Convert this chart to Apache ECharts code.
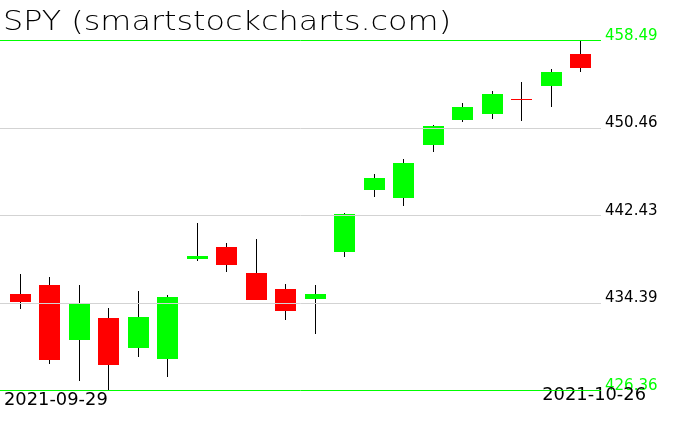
<!DOCTYPE html>
<html><head><meta charset="utf-8">
<script src="https://cdn.jsdelivr.net/npm/echarts@6/dist/echarts.min.js"></script>
<style>html,body{margin:0;padding:0;background:#fff}#c{width:676px;height:431px}</style>
</head><body><div id="c"></div>
<script>
const dates = ['2021-09-29','2021-09-30','2021-10-01','2021-10-04','2021-10-05','2021-10-06','2021-10-07','2021-10-08','2021-10-11','2021-10-12','2021-10-13','2021-10-14','2021-10-15','2021-10-18','2021-10-19','2021-10-20','2021-10-21','2021-10-22','2021-10-25','2021-10-26'];
const opens  = [435.19,436.02,430.98,433.00,430.24,429.27,438.39,439.48,437.16,435.67,434.71,439.08,444.75,443.97,448.92,451.13,451.77,453.13,454.28,457.20];
const highs  = [437.04,436.77,436.03,433.96,435.49,435.12,441.68,439.89,440.26,436.10,436.05,442.66,446.26,447.55,450.71,452.73,453.83,454.67,455.90,458.49];
const lows   = [433.85,428.78,427.23,426.36,429.39,427.54,438.20,437.19,434.62,432.78,431.54,438.58,444.09,443.27,448.27,451.01,451.31,451.05,452.39,455.56];
const closes = [434.44,429.14,434.24,428.64,433.10,434.90,438.66,437.86,434.69,433.62,435.18,442.50,445.87,447.19,450.64,452.41,453.59,453.12,455.55,455.96];
const yTicks = [426.36, 434.39, 442.43, 450.46, 458.49];
const titleText = 'SPY (smartstockcharts.com)';

const GREEN = '#00ff00', RED = '#ff0000', GRAY = '#d3d3d3';
const chart = echarts.init(document.getElementById('c'), null, {renderer: 'canvas'});
const candles = dates.map((d, i) => [i, opens[i], closes[i], lows[i], highs[i]]);

chart.setOption({
  animation: false,
  backgroundColor: '#fff',
  grid: {left: 0, right: 75, top: 40.3, bottom: 40.7},
  xAxis: {type: 'value', min: -0.6955, max: 19.695, show: false},
  yAxis: {type: 'value', min: yTicks[0], max: yTicks[yTicks.length - 1], show: false},
  series: [
    {
      type: 'line', z: 1, silent: true, showSymbol: false,
      data: candles.map(c => [c[0], c[2]]),
      lineStyle: {width: 0, opacity: 0},
      markLine: {
        silent: true, symbol: 'none', animation: false,
        label: {show: false},
        data: yTicks.map((v, i) => ({
          yAxis: v,
          lineStyle: {type: 'solid', width: 1, color: (i === 0 || i === yTicks.length - 1) ? GREEN : GRAY}
        }))
      }
    },
    {
      type: 'custom', z: 2, silent: true,
      data: candles,
      encode: {x: 0, y: [1, 2, 3, 4]},
      renderItem(params, api) {
        const x = api.value(0);
        const o = api.value(1), c = api.value(2), l = api.value(3), h = api.value(4);
        const pO = api.coord([x, o]), pC = api.coord([x, c]);
        const pL = api.coord([x, l]), pH = api.coord([x, h]);
        const w = Math.round(api.size([1, 0])[0] * 0.715);
        const cx = Math.floor(pO[0]) + 0.5;
        const top = Math.round(Math.min(pO[1], pC[1]));
        const bot = Math.round(Math.max(pO[1], pC[1]));
        const bh = Math.max(bot - top, 1);
        return {
          type: 'group',
          children: [
            {type: 'line', shape: {x1: cx, y1: Math.round(pH[1]), x2: cx, y2: Math.round(pL[1])},
             style: {stroke: '#000', lineWidth: 1}},
            {type: 'rect', shape: {x: Math.round(cx - w / 2), y: top, width: w, height: bh},
             style: {fill: c > o ? GREEN : RED}}
          ]
        };
      }
    }
  ]
});

const gfx = [];
yTicks.forEach((v, i) => {
  const y = chart.convertToPixel({yAxisIndex: 0}, v);
  gfx.push({
    type: 'text', x: 605, y: y - 4.5, silent: true,
    style: {text: v.toFixed(2), fill: (i === 0 || i === yTicks.length - 1) ? GREEN : '#000',
            font: '15px "DejaVu Sans"', textAlign: 'left', textVerticalAlign: 'middle', verticalAlign: 'middle'}
  });
});
gfx.push({
  type: 'text', x: 4, y: 400.3, scaleX: 1.05, silent: true,
  style: {text: dates[0], fill: '#000', font: '17px "DejaVu Sans"', textAlign: 'left', textVerticalAlign: 'middle', verticalAlign: 'middle'}
});
gfx.push({
  type: 'text', x: 646, y: 395.8, scaleX: 1.05, silent: true,
  style: {text: dates[dates.length - 1], fill: '#000', font: '17px "DejaVu Sans"', textAlign: 'right', textVerticalAlign: 'middle', verticalAlign: 'middle'}
});
gfx.push({
  type: 'text', x: 3, y: 23, scaleX: 1.18, silent: true,
  style: {text: titleText, fill: '#000', font: '200 27px "DejaVu Sans"', textAlign: 'left', textVerticalAlign: 'middle', verticalAlign: 'middle'}
});
chart.setOption({graphic: {elements: gfx}});
</script>
</body></html>
